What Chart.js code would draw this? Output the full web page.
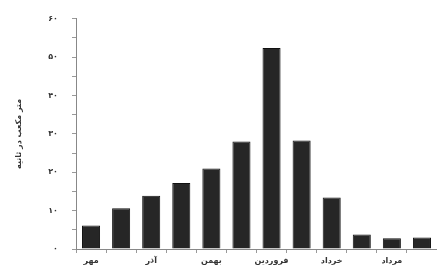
<!DOCTYPE html>
<html>
<head>
<meta charset="utf-8">
<script src="https://cdn.jsdelivr.net/npm/chart.js@4.4.3/dist/chart.umd.min.js"></script>
<style>
  html, body { margin: 0; padding: 0; background: #fff; }
  #wrap { width: 437px; height: 272px; position: relative; }
</style>
</head>
<body>
<div id="wrap"><canvas id="chart"></canvas></div>
<script>
// months of the Persian year, starting with Mehr
const months = ['مهر', 'آبان', 'آذر', 'دی', 'بهمن', 'اسفند', 'فروردین', 'اردیبهشت', 'خرداد', 'تیر', 'مرداد', 'شهریور'];
// only every other month is labelled on the axis
const monthLabels = ['مهر', '', 'آذر', '', 'بهمن', '', 'فروردین', '', 'خرداد', '', 'مرداد', ''];
// discharge, m3/s
const flow = [6.1, 10.6, 13.9, 17.2, 21, 28, 52.4, 28.3, 13.4, 3.8, 2.8, 3.0];
const yTitle = 'متر مکعب در ثانیه';

const faDigits = '۰۱۲۳۴۵۶۷۸۹';
function toFa(n) {
    return String(n).replace(/[0-9]/g, d => faDigits[d]);
}

const font = { family: 'DejaVu Sans', size: 8, weight: 'bold' };

const ctx = document.getElementById('chart');
new Chart(ctx, {
    type: 'bar',
    data: {
        labels: months,
        datasets: [{
            data: flow,
            backgroundColor: '#262626',
            borderColor: '#111',
            borderWidth: 1,
            barPercentage: 0.6,
            categoryPercentage: 1.0
        }]
    },
    options: {
        responsive: true,
        maintainAspectRatio: false,
        animation: false,
        layout: { padding: { top: 12, right: 0, bottom: 1, left: 0 } },
        plugins: { legend: { display: false }, tooltip: { enabled: false } },
        scales: {
            x: {
                offset: true,
                grid: { offset: true, drawOnChartArea: false, tickLength: 4, color: '#999' },
                border: { color: '#888' },
                ticks: {
                    color: '#333',
                    font: font,
                    padding: 3,
                    maxRotation: 0,
                    autoSkip: false,
                    callback: (v, i) => monthLabels[i]
                },
                afterFit: (s) => { s.height = 22; }
            },
            y: {
                min: 0,
                max: 60,
                grid: { drawOnChartArea: false, tickLength: 4, color: '#999' },
                border: { color: '#888' },
                ticks: {
                    stepSize: 5,
                    color: '#333',
                    font: font,
                    padding: 14,
                    callback: (v) => (v % 10 === 0 ? toFa(v) : '')
                },
                title: {
                    display: true,
                    text: yTitle,
                    color: '#333',
                    font: font,
                    padding: { top: 14, bottom: 0 }
                },
                afterFit: (s) => { s.width = 76; }
            }
        }
    }
});
</script>
</body>
</html>
